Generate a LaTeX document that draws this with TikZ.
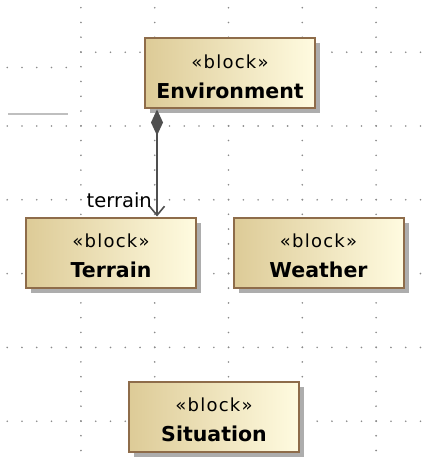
\documentclass[tikz,border=0pt]{standalone}
\usepackage{fontspec}
\usetikzlibrary{arrows.meta,shadows,calc}
\newfontfamily\uifont{DejaVu Sans}
\newfontfamily\stereofont[LetterSpace=7]{DejaVu Sans}
\definecolor{boxleft}{HTML}{DDCB97}
\definecolor{boxright}{HTML}{FFFBE0}
\definecolor{boxedge}{HTML}{8E6C4A}
\definecolor{griddot}{HTML}{8A8A8A}
\definecolor{linkcol}{HTML}{4F4F4F}
\tikzset{
  blockbox/.style={draw=boxedge, line width=2pt, left color=boxleft, right color=boxright,
    minimum width=170pt, minimum height=70pt, inner sep=0pt, align=center,
    drop shadow={shadow xshift=5pt, shadow yshift=-5pt, fill=black!32, opacity=1}},
  compose/.style={draw=linkcol, line width=1.8pt,
    {Diamond[length=26pt,width=12pt]}-{Straight Barb[length=9pt,width=15pt,line width=1.6pt]}},
  rolelabel/.style={font=\uifont\fontsize{19.5}{21}\selectfont, inner sep=0pt},
  dot/.style={fill=griddot}
}
% stereotype line and bold name, with a strut lifting the pair a little lower in the box
\newcommand{\blk}[1]{{\rule{0pt}{20pt}\stereofont\fontsize{18}{19}\selectfont «block»}\\[13pt]{\uifont\bfseries\fontsize{20.5}{21}\selectfont #1}}
\begin{document}
\begin{tikzpicture}[x=1pt,y=-1pt]
  \useasboundingbox (0,0) rectangle (427,465);
  \fill[white] (0,0) rectangle (427,465);
  % dotted layout grid: rows and columns every 73.8, dots every 14.76
  \foreach \ry in {126,199.8,273.6,347.4,421.2}
    \foreach \j in {0,...,28}
      \fill[dot] ({7.2+14.76*\j},\ry) circle (0.9);
  \foreach \j in {5,...,28}
    \fill[dot] ({7.2+14.76*\j},52.2) circle (0.9);
  \foreach \j in {0,...,4}
    \fill[dot] ({7.2+14.76*\j},67.5) circle (0.9);
  \foreach \cx in {80.9,154.7,228.5,302.3,376.1}
    \foreach \j in {0,...,30}
      \fill[dot] (\cx,{7.7+14.76*\j}) circle (0.9);
  % short grey rule at the left
  \coordinate (ruleA) at (8,114);
  \coordinate (ruleB) at (68,114);
  \draw[black!25, line width=2pt] (ruleA) -- (ruleB);
  % blocks
  \node[blockbox] (env) at (230,73.5) {\blk{Environment}};
  \node[blockbox] (terr) at (111,252.5) {\blk{Terrain}};
  \node[blockbox] (wea) at (318.5,252.5) {\blk{Weather}};
  \node[blockbox] (sit) at (214,416.5) {\blk{Situation}};
  % composition Environment -> Terrain
  \draw[compose] ([xshift=13pt]env.south west) -- ([xshift=13pt]env.south west |- terr.north);
  \node[rolelabel, anchor=east] (role) at (152,200) {terrain};
\end{tikzpicture}
\end{document}
